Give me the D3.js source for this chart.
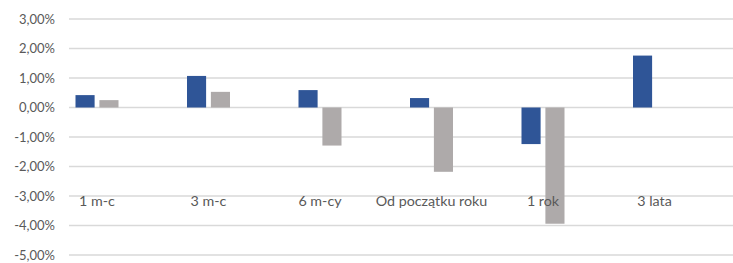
<!DOCTYPE html>
<html><head><meta charset="utf-8">
<script src="https://cdn.jsdelivr.net/npm/d3@7/dist/d3.min.js"></script>
<style>body{margin:0;background:#fff}svg{display:block}</style>
</head><body>
<svg id="c" width="733" height="263"></svg>
<script>
const categories = ["1 m-c", "3 m-c", "6 m-cy", "Od początku roku", "1 rok", "3 lata"];
const seriesA = [0.42, 1.07, 0.59, 0.32, -1.24, 1.76];
const seriesB = [0.25, 0.53, -1.29, -2.18, -3.94, null];
const yTicks = [3, 2, 1, 0, -1, -2, -3, -4, -5];
const colors = ["#2F5597", "#AEAAAA"];

const svg = d3.select("#c");
const y = d3.scaleLinear().domain([-5, 3]).range([255, 19]);
const x0 = d3.scaleBand().domain(categories).range([41.25, 710.25]);
const x1 = d3.scaleBand().domain([0, 1]).range([x0.bandwidth()/2 - 21.5, x0.bandwidth()/2 + 21.5]).paddingInner(0.2);
const fmt = v => d3.format(".2f")(v).replace(".", ",").replace("−", "-") + "%";

svg.append("g").selectAll("line").data(yTicks).join("line")
  .attr("x1", 69).attr("x2", 733)
  .attr("y1", d => y(d)).attr("y2", d => y(d))
  .attr("stroke", "#D9D9D9").attr("stroke-width", 1.3);

svg.append("g").selectAll("text").data(yTicks).join("text")
  .attr("x", 55).attr("y", d => y(d)).attr("dy", "0.35em")
  .attr("text-anchor", "end")
  .attr("font-family", "Lato, 'Open Sans', sans-serif").attr("font-size", 13)
  .attr("fill", "#595959").text(fmt);

[seriesA, seriesB].forEach((s, si) => {
  svg.append("g").selectAll("rect")
    .data(categories.map((c, i) => ({c, v: s[i]})).filter(d => d.v !== null))
    .join("rect")
    .attr("x", d => x0(d.c) + x1(si))
    .attr("width", x1.bandwidth())
    .attr("y", d => y(Math.max(0, d.v)))
    .attr("height", d => Math.abs(y(d.v) - y(0)))
    .attr("fill", colors[si]);
});

svg.append("g").selectAll("text").data(categories).join("text")
  .attr("x", d => x0(d) + x0.bandwidth()/2).attr("y", 201).attr("dy", "0.35em")
  .attr("text-anchor", "middle")
  .attr("font-family", "Lato, 'Open Sans', sans-serif").attr("font-size", 14.3)
  .attr("fill", "#595959").text(d => d);
</script>
</body></html>
